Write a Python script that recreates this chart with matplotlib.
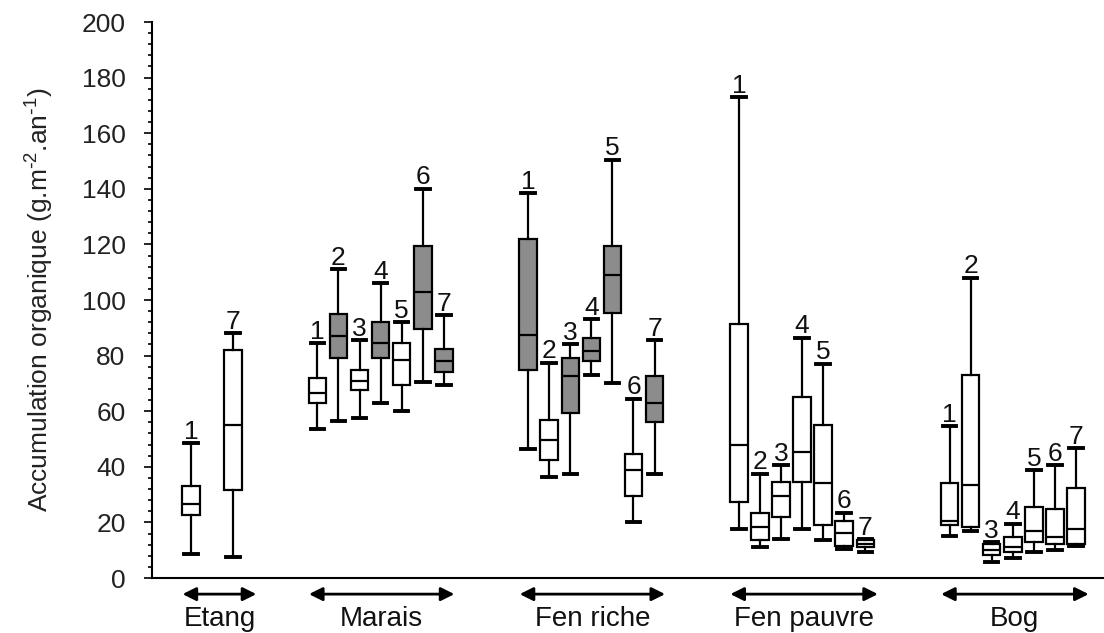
import matplotlib
matplotlib.use("Agg")
import matplotlib.pyplot as plt
from matplotlib.ticker import MultipleLocator

plt.rcParams['font.family'] = ['Liberation Sans', 'DejaVu Sans']
plt.rcParams['mathtext.default'] = 'regular'

# ---------------- data ----------------
groups = ["Etang", "Marais", "Fen riche", "Fen pauvre", "Bog"]
box_labels = [
    ["1", "7"],
    ["1", "2", "3", "4", "5", "6", "7"],
    ["1", "2", "3", "4", "5", "6", "7"],
    ["1", "2", "3", "4", "5", "6", "7"],
    ["1", "2", "3", "4", "5", "6", "7"],
]
whisker_low = [
    [8.8, 7.5],
    [53.5, 56.5, 57.5, 63.0, 60.0, 70.5, 69.5],
    [46.5, 36.5, 37.5, 73.0, 70.0, 20.0, 37.5],
    [17.5, 11.0, 14.0, 17.5, 13.5, 10.5, 9.5],
    [15.0, 17.0, 5.8, 7.3, 9.2, 10.0, 11.5],
]
q1 = [
    [22.5, 31.8],
    [63.0, 79.0, 67.5, 79.0, 69.5, 89.5, 74.0],
    [75.0, 42.5, 59.5, 78.0, 95.5, 29.5, 56.0],
    [27.5, 13.5, 22.0, 34.5, 19.0, 11.5, 11.2],
    [19.0, 18.5, 8.2, 9.4, 12.8, 12.2, 12.3],
]
median = [
    [26.5, 55.0],
    [66.5, 87.0, 71.0, 84.5, 78.5, 103.0, 78.0],
    [87.5, 49.5, 72.5, 81.5, 109.0, 39.0, 63.0],
    [48.0, 18.5, 29.5, 45.5, 34.0, 16.3, 12.3],
    [20.5, 33.5, 10.2, 11.3, 17.0, 14.6, 17.5],
]
q3 = [
    [33.0, 82.0],
    [72.0, 95.0, 75.0, 92.0, 84.5, 119.5, 82.5],
    [122.0, 57.0, 79.0, 86.5, 119.5, 44.5, 72.5],
    [91.5, 23.5, 34.5, 65.0, 55.0, 20.5, 13.5],
    [34.0, 73.0, 12.2, 14.9, 25.5, 25.0, 32.5],
]
whisker_high = [
    [48.5, 88.0],
    [84.5, 111.0, 85.5, 106.0, 92.0, 140.0, 94.5],
    [138.5, 77.5, 84.0, 93.0, 150.5, 64.5, 85.5],
    [173.0, 37.5, 40.5, 86.5, 77.0, 23.5, 14.0],
    [54.5, 108.0, 12.8, 19.5, 38.8, 40.5, 46.7],
]
shaded = [
    [False, False],
    [False, True, False, True, False, True, True],
    [True, False, True, True, True, False, True],
    [False] * 7,
    [False] * 7,
]
y_label = r"Accumulation organique (g.m$^{\text{-}2}$.an$^{\text{-}1}$)"

# ---------------- layout ----------------
group_x0 = [2, 8, 18, 28, 38]
group_step = [2, 1, 1, 1, 1]
arrow_extra_right = [1.1, 0.5, 0.5, 0.6, 0.6]
GREY = "#8c8c8c"

fig = plt.figure(figsize=(11.04, 6.33), dpi=100)
ax = fig.add_axes([152 / 1104, 1 - 578 / 633, 1 - 152 / 1104, (578 - 22) / 633])

stats, positions, faces, labels = [], [], [], []
for g in range(len(groups)):
    for i in range(len(box_labels[g])):
        stats.append(dict(whislo=whisker_low[g][i], q1=q1[g][i], med=median[g][i],
                          q3=q3[g][i], whishi=whisker_high[g][i], fliers=[]))
        positions.append(group_x0[g] + i * group_step[g])
        faces.append(GREY if shaded[g][i] else "white")
        labels.append(box_labels[g][i])

bp = ax.bxp(stats, positions=positions, widths=0.83, capwidths=0.64,
            patch_artist=True, showfliers=False, manage_ticks=False,
            boxprops=dict(linewidth=1.6, edgecolor="black"),
            medianprops=dict(linewidth=1.6, color="black"),
            whiskerprops=dict(linewidth=1.6, color="black"),
            capprops=dict(linewidth=2.8, color="black"))
for patch, fc in zip(bp["boxes"], faces):
    patch.set_facecolor(fc)
    patch.set_zorder(2)

for st, x, lab in zip(stats, positions, labels):
    ax.annotate(lab, xy=(x, st["whishi"]), xytext=(0, 3.2), textcoords="offset points",
                ha="center", va="baseline", fontsize=19, color="#111111")

# group arrows and labels below the axis
trans = ax.get_xaxis_transform()
for g, name in enumerate(groups):
    first = group_x0[g]
    last = group_x0[g] + (len(box_labels[g]) - 1) * group_step[g]
    x0 = first - 0.4
    x1 = last + arrow_extra_right[g]
    ax.annotate("", xy=(x1, -0.029), xytext=(x0, -0.029), xycoords=trans, textcoords=trans,
                arrowprops=dict(arrowstyle="<|-|>", lw=2, color="black",
                                mutation_scale=20, shrinkA=0, shrinkB=0),
                annotation_clip=False)
    ax.text((x0 + x1) / 2, -0.073, name, transform=trans, ha="center", va="center",
            fontsize=20, color="#111111", clip_on=False)

ax.set_xlim(0.15, 45.33)
ax.set_ylim(0, 200)
ax.yaxis.set_major_locator(MultipleLocator(20))
ax.yaxis.set_minor_locator(MultipleLocator(4))
ax.tick_params(axis="y", which="major", direction="out", length=6, width=1.2,
               labelsize=19, pad=13, labelcolor="#222222")
ax.tick_params(axis="y", which="minor", direction="out", length=3, width=1.2)
ax.set_xticks([])
ax.spines["top"].set_visible(False)
ax.spines["right"].set_visible(False)
ax.spines["left"].set_linewidth(1.5)
ax.spines["bottom"].set_linewidth(1.5)

fig.text(40 / 1104, 1 - 300 / 633, y_label, rotation=90, ha="center", va="center",
         fontsize=19, color="#222222")

fig.savefig("out.png", dpi=100)
